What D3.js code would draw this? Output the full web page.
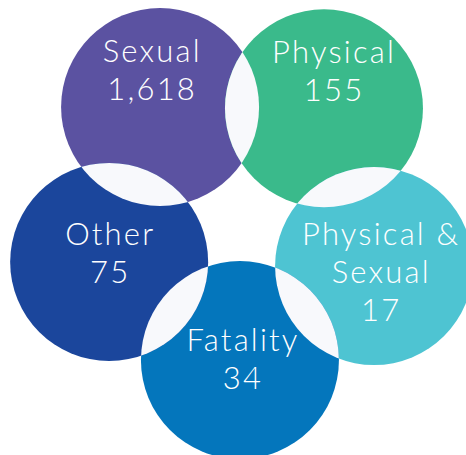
<!DOCTYPE html>
<html>
<head>
<meta charset="utf-8">
<script src="https://cdn.jsdelivr.net/npm/d3@7"></script>
<style>
  html, body { margin: 0; padding: 0; background: #ffffff; }
  svg { display: block; }
</style>
</head>
<body>
<script>
// data
const categories = ["Sexual", "Physical", "Physical & Sexual", "Fatality", "Other"];
const values = [1618, 155, 17, 34, 75];
const labelLines = [["Sexual"], ["Physical"], ["Physical &", "Sexual"], ["Fatality"], ["Other"]];
const colors = ["#5b52a1", "#3aba8b", "#4ec4d2", "#0476bc", "#1b469c"];

// ring layout (degrees clockwise from top, distance from ring centre)
const ringAngle = [-31.7, 32.6, 101.9, 180.5, 259.7];
const ringDist = [154, 154, 136, 122, 134];
// label offsets relative to each circle centre
const labelShift = [[-9, -45], [9, -45], [6, -21], [2, -9], [0, -17]];

const width = 466, height = 455;
const ringCx = 241, ringCy = 238, r = 99;
const lensColor = "#f8f9fc";
const spacing = 2.2;

const svg = d3.select("body").append("svg")
  .attr("width", width)
  .attr("height", height);

const angle = d3.scaleOrdinal().domain(categories).range(ringAngle.map(a => a * Math.PI / 180));
const dist = d3.scaleOrdinal().domain(categories).range(ringDist);

const nodes = categories.map((c, i) => {
  const [x, y] = d3.pointRadial(angle(c), dist(c));
  return { name: c, value: values[i], lines: labelLines[i], color: colors[i], x: ringCx + x, y: ringCy + y, shift: labelShift[i] };
});

const defs = svg.append("defs");
defs.selectAll("clipPath")
  .data(nodes)
  .enter()
  .append("clipPath")
  .attr("id", (d, i) => "clip" + i)
  .append("circle")
  .attr("cx", d => d.x)
  .attr("cy", d => d.y)
  .attr("r", r);

svg.selectAll("circle.node")
  .data(nodes)
  .enter()
  .append("circle")
  .attr("class", "node")
  .attr("cx", d => d.x)
  .attr("cy", d => d.y)
  .attr("r", r)
  .attr("fill", d => d.color);

// overlaps between neighbours are left pale
const pairs = d3.pairs(d3.range(nodes.length).concat([0]));
svg.selectAll("circle.lens")
  .data(pairs)
  .enter()
  .append("circle")
  .attr("class", "lens")
  .attr("clip-path", p => "url(#clip" + p[0] + ")")
  .attr("cx", p => nodes[p[1]].x)
  .attr("cy", p => nodes[p[1]].y)
  .attr("r", r)
  .attr("fill", lensColor);

const fmt = d3.format(",");
const lineH = 38;

const labels = svg.selectAll("text.label")
  .data(nodes)
  .enter()
  .append("text")
  .attr("class", "label")
  .attr("text-anchor", "middle")
  .attr("fill", "#ffffff")
  .style("font-family", "Lato, 'Open Sans', sans-serif")
  .style("font-weight", 300)
  .style("font-size", "31px")
  .style("letter-spacing", spacing + "px")
  .attr("x", d => d.x + d.shift[0] + spacing / 2)
  .attr("y", d => d.y + d.shift[1]);

labels.each(function(d) {
  const t = d3.select(this);
  d.lines.concat([fmt(d.value)]).forEach((line, j) => {
    t.append("tspan")
      .attr("x", d.x + d.shift[0] + spacing / 2)
      .attr("dy", j === 0 ? 0 : lineH)
      .text(line);
  });
});
</script>
</body>
</html>
